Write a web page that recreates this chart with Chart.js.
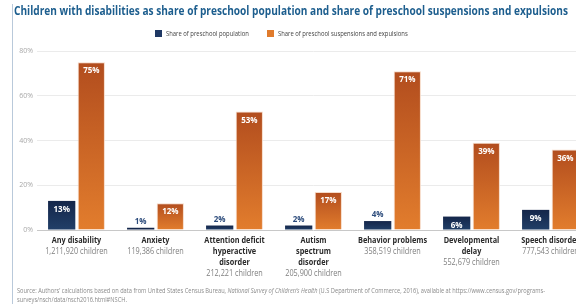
<!DOCTYPE html>
<html>
<head>
<meta charset="utf-8">
<script src="https://cdn.jsdelivr.net/npm/chart.js@4.4.1/dist/chart.umd.min.js"></script>
<style>
  html, body { margin: 0; padding: 0; background: #fff; overflow: hidden; }
  #wrap { position: relative; width: 576px; height: 304px; overflow: hidden; }
  #chart { position: absolute; left: 0; top: 0; }
</style>
</head>
<body>
<div id="wrap">
  <canvas id="chart" width="624" height="304"></canvas>
</div>
<script>
const titleText = 'Children with disabilities as share of preschool population and share of preschool suspensions and expulsions';

const categories = [
  ['Any disability'],
  ['Anxiety'],
  ['Attention deficit', 'hyperactive', 'disorder'],
  ['Autism', 'spectrum', 'disorder'],
  ['Behavior problems'],
  ['Developmental', 'delay'],
  ['Speech disorder']
];
const childCounts = [
  '1,211,920 children',
  '119,386 children',
  '212,221 children',
  '205,900 children',
  '358,519 children',
  '552,679 children',
  '777,543 children'
];
const populationShare = [13, 1, 2, 2, 4, 6, 9];
const suspensionShare = [75, 12, 53, 17, 71, 39, 36];
const yTicks = [0, 20, 40, 60, 80];
const seriesNames = ['Share of preschool population', 'Share of preschool suspensions and expulsions'];

const sourceLine1 = [
  ['Source: Authors\u2019 calculations based on data from United States Census Bureau, ', false],
  ['National Survey of Children\u2019s Health', true],
  [' (U.S Department of Commerce, 2016), available at https://www.census.gov/programs-', false]
];
const sourceLine2 = 'surveys/nsch/data/nsch2016.html#NSCH.';

const FONT = '"Open Sans", "Noto Sans", sans-serif';
const NAVY = '#1f3864';
const ORANGE = '#e07b2c';

// vertical gradient per bar, dark at the top
function barFill(topColor, bottomColor) {
  return (c) => {
    const chart = c.chart;
    if (c.dataIndex === undefined || !chart.chartArea) return bottomColor;
    const y = chart.scales.y;
    const yTop = y.getPixelForValue(c.dataset.data[c.dataIndex]);
    const yBot = y.getPixelForValue(0);
    if (yBot - yTop < 4) return topColor;
    const g = chart.ctx.createLinearGradient(0, yTop, 0, yBot);
    g.addColorStop(0, topColor);
    g.addColorStop(1, bottomColor);
    return g;
  };
}

const barLabels = {
  id: 'barLabels',
  afterDatasetsDraw(chart) {
    const ctx = chart.ctx;
    ctx.save();
    ctx.font = 'bold 8px ' + FONT;
    ctx.textAlign = 'center';
    ctx.textBaseline = 'middle';
    chart.data.datasets.forEach((ds, di) => {
      chart.getDatasetMeta(di).data.forEach((bar, i) => {
        const txt = ds.data[i] + '%';
        const h = bar.base - bar.y;
        if (h > 11) {
          ctx.fillStyle = '#ffffff';
          ctx.fillText(txt, bar.x, bar.y + 9);
        } else {
          ctx.fillStyle = '#2d4c7c';
          ctx.fillText(txt, bar.x, bar.y - 6);
        }
      });
    });
    ctx.restore();
  }
};

const decorations = {
  id: 'decorations',
  afterDraw(chart) {
    const ctx = chart.ctx;
    ctx.save();

    // left rule
    ctx.strokeStyle = '#b9c9da';
    ctx.lineWidth = 1;
    ctx.beginPath();
    ctx.moveTo(12.5, 4);
    ctx.lineTo(12.5, 304);
    ctx.stroke();

    // title
    ctx.fillStyle = '#1d5e8e';
    ctx.font = 'bold 11.5px ' + FONT;
    ctx.textBaseline = 'middle';
    ctx.textAlign = 'left';
    ctx.fillText(titleText, 14, 12, 554);

    // legend
    ctx.font = '7px ' + FONT;
    const legendX = [155, 267];
    [NAVY, ORANGE].forEach((col, k) => {
      ctx.fillStyle = col;
      ctx.fillRect(legendX[k], 30, 7, 7);
      ctx.save();
      ctx.translate(legendX[k] + 11, 33.5);
      ctx.scale(0.84, 1);
      ctx.fillStyle = '#444';
      ctx.fillText(seriesNames[k], 0, 0);
      ctx.restore();
    });

    // category labels
    const m0 = chart.getDatasetMeta(0).data;
    const m1 = chart.getDatasetMeta(1).data;
    ctx.textAlign = 'center';
    categories.forEach((lines, i) => {
      const cx = (m0[i].x + m1[i].x) / 2;
      let y = 241;
      ctx.save();
      ctx.translate(cx, 0);
      ctx.scale(0.86, 1);
      ctx.fillStyle = '#2a2a2a';
      ctx.font = 'bold 8.5px ' + FONT;
      lines.forEach(l => { ctx.fillText(l, 0, y); y += 11; });
      ctx.fillStyle = '#808080';
      ctx.font = '8.5px ' + FONT;
      ctx.fillText(childCounts[i], 0, y);
      ctx.restore();
    });

    // source note
    ctx.textAlign = 'left';
    ctx.fillStyle = '#8a8a8a';
    const fontN = '6.5px ' + FONT, fontI = 'italic 6.5px ' + FONT;
    let natural = 0;
    sourceLine1.forEach(([t, it]) => { ctx.font = it ? fontI : fontN; natural += ctx.measureText(t).width; });
    const s = 528 / natural;
    ctx.save();
    ctx.translate(17, 291);
    ctx.scale(s, 1);
    let x = 0;
    sourceLine1.forEach(([t, it]) => {
      ctx.font = it ? fontI : fontN;
      ctx.fillText(t, x, 0);
      x += ctx.measureText(t).width;
    });
    ctx.font = fontN;
    ctx.fillText(sourceLine2, 0, 9);
    ctx.restore();

    ctx.restore();
  }
};

new Chart(document.getElementById('chart'), {
  type: 'bar',
  data: {
    labels: categories.map(c => c.join(' ')),
    datasets: [
      {
        label: seriesNames[0],
        data: populationShare,
        backgroundColor: barFill('#14264a', '#213f68'),
        borderWidth: 0,
        categoryPercentage: 0.75,
        barPercentage: 0.92
      },
      {
        label: seriesNames[1],
        data: suspensionShare,
        backgroundColor: barFill('#b24d1e', '#e27d2d'),
        borderColor: 'rgba(245,215,195,0.9)',
        borderWidth: 1,
        categoryPercentage: 0.75,
        barPercentage: 0.92
      }
    ]
  },
  options: {
    responsive: false,
    animation: false,
    events: [],
    layout: { padding: { top: 51, right: 34, bottom: 74, left: 0 } },
    plugins: {
      legend: { display: false },
      title: { display: false },
      tooltip: { enabled: false }
    },
    scales: {
      x: { display: false },
      y: {
        min: 0,
        max: 80,
        afterFit(scale) { scale.width = 37; },
        afterBuildTicks(scale) { scale.ticks = yTicks.map(v => ({ value: v })); },
        border: { display: false },
        grid: {
          drawTicks: false,
          color: c => (c.tick && c.tick.value === 0 ? '#c8c8c8' : '#ebebeb'),
          lineWidth: 1
        },
        ticks: {
          padding: 4,
          color: '#a8a8a8',
          font: { family: FONT, size: 7 },
          callback: v => v + '%'
        }
      }
    }
  },
  plugins: [barLabels, decorations]
});
</script>
</body>
</html>
